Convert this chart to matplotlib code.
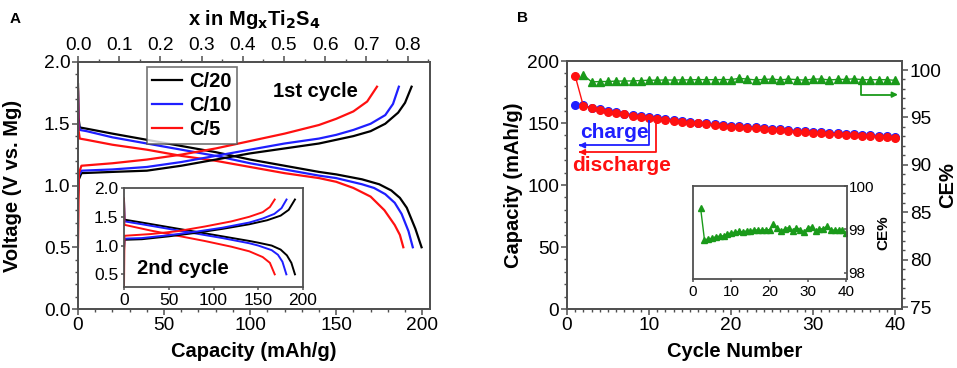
import matplotlib
matplotlib.use("Agg")
import matplotlib.pyplot as plt
from matplotlib.ticker import MultipleLocator

plt.rcParams['font.family'] = ['Liberation Sans', 'DejaVu Sans']

# ---------------- Panel A data (1st cycle) ----------------
c20_dis_cap = [0, 0.3, 1, 5, 20, 40, 60, 80, 100, 120, 140, 150, 165, 175, 182, 187, 191, 196, 199.6]
c20_dis_v = [1.82, 1.55, 1.47, 1.46, 1.42, 1.37, 1.32, 1.27, 1.21, 1.16, 1.11, 1.09, 1.05, 1.01, 0.96, 0.90, 0.82, 0.65, 0.5]
c10_dis_cap = [0, 0.3, 1, 5, 20, 40, 60, 80, 100, 120, 140, 150, 165, 172, 178.5, 184, 188, 192, 194.5]
c10_dis_v = [1.76, 1.52, 1.45, 1.44, 1.39, 1.34, 1.29, 1.24, 1.18, 1.13, 1.08, 1.06, 1.01, 0.98, 0.93, 0.86, 0.77, 0.63, 0.5]
c5_dis_cap = [0, 0.3, 1, 5, 20, 40, 60, 80, 100, 120, 140, 150, 160, 170, 178, 184, 187, 189]
c5_dis_v = [1.78, 1.45, 1.38, 1.37, 1.33, 1.29, 1.24, 1.20, 1.15, 1.10, 1.06, 1.03, 0.98, 0.91, 0.80, 0.68, 0.60, 0.5]

c20_chg_cap = [0, 0.5, 2, 20, 40, 60, 80, 100, 120, 140, 150, 160, 170, 178.5, 186, 190, 193.8]
c20_chg_v = [0.90, 1.05, 1.10, 1.11, 1.12, 1.16, 1.21, 1.26, 1.30, 1.34, 1.37, 1.40, 1.44, 1.50, 1.59, 1.67, 1.80]
c10_chg_cap = [0, 0.5, 2, 20, 40, 60, 80, 100, 120, 140, 150, 160, 170, 178.5, 183, 186.4]
c10_chg_v = [0.95, 1.08, 1.12, 1.13, 1.15, 1.19, 1.24, 1.29, 1.34, 1.38, 1.41, 1.45, 1.50, 1.57, 1.66, 1.80]
c5_chg_cap = [0, 0.5, 2, 20, 40, 60, 80, 100, 120, 140, 150, 160, 168, 173.7]
c5_chg_v = [0.50, 1.10, 1.16, 1.18, 1.21, 1.25, 1.30, 1.36, 1.42, 1.49, 1.54, 1.60, 1.68, 1.80]

# ---------------- Panel A inset data (2nd cycle) ----------------
i20_dis_cap = [0, 0.5, 20, 50, 80, 110, 140, 150, 165, 175, 182, 187, 191]
i20_dis_v = [1.80, 1.45, 1.40, 1.32, 1.24, 1.16, 1.08, 1.05, 1.00, 0.93, 0.83, 0.70, 0.5]
i10_dis_cap = [0, 0.5, 20, 50, 80, 110, 140, 150, 165, 172, 177, 181.4]
i10_dis_v = [1.80, 1.42, 1.37, 1.29, 1.21, 1.13, 1.04, 1.00, 0.92, 0.84, 0.72, 0.5]
i5_dis_cap = [0, 0.5, 30, 60, 90, 120, 140, 155, 163, 168.4]
i5_dis_v = [1.82, 1.36, 1.26, 1.17, 1.08, 0.98, 0.90, 0.80, 0.70, 0.5]
i20_chg_cap = [0, 0.5, 20, 50, 80, 110, 140, 160, 175, 184, 191]
i20_chg_v = [0.90, 1.10, 1.11, 1.16, 1.22, 1.29, 1.37, 1.44, 1.52, 1.62, 1.80]
i10_chg_cap = [0, 0.5, 20, 50, 80, 110, 140, 155, 168, 176, 181.6]
i10_chg_v = [0.95, 1.12, 1.13, 1.18, 1.24, 1.31, 1.40, 1.47, 1.55, 1.65, 1.80]
i5_chg_cap = [0, 0.5, 30, 60, 90, 120, 140, 155, 163, 168.4]
i5_chg_v = [0.28, 1.17, 1.20, 1.25, 1.33, 1.42, 1.50, 1.58, 1.67, 1.80]

# ---------------- Panel B data ----------------
cycles = list(range(1, 41))
charge_cap = [164.2, 164.3, 162.4, 161.1, 159.7, 158.5, 157.6, 156.8, 155.8, 155.0,
              154.2, 153.4, 152.8, 152.0, 151.2, 150.4, 149.8, 149.0, 148.5, 147.7,
              147.4, 146.9, 146.4, 145.8, 145.3, 144.8, 144.5, 143.9, 143.7, 143.1,
              142.8, 142.3, 142.0, 141.5, 141.0, 140.7, 140.2, 139.9, 139.3, 138.5]
discharge_cap = [187.9, 163.6, 161.7, 160.4, 159.0, 157.7, 156.9, 156.0, 155.0, 154.2,
                 153.4, 152.6, 152.0, 151.2, 150.4, 149.6, 149.0, 148.2, 147.7, 146.9,
                 146.6, 146.1, 145.6, 145.0, 144.5, 144.0, 143.7, 143.1, 142.9, 142.3,
                 142.0, 141.5, 141.2, 140.7, 140.2, 139.9, 139.4, 139.1, 138.5, 137.7]
ce_cycles = list(range(2, 41))
ce_values = [99.48, 98.75, 98.78, 98.79, 98.83, 98.84, 98.85, 98.89, 98.92, 98.93,
             98.95, 98.94, 98.96, 98.96, 98.99, 98.98, 98.98, 98.99, 98.99, 99.12,
             99.04, 98.95, 99.01, 99.04, 98.96, 99.04, 98.99, 98.93, 99.04, 99.05,
             98.95, 99.01, 99.01, 99.07, 98.98, 98.98, 98.98, 98.98, 98.91]

BLACK = '#000000'
BLUE = '#1f1fff'
RED = '#ff1010'
GREEN = '#1a9a1a'
SPINE = '#505050'

fig = plt.figure(figsize=(9.57, 3.68), dpi=100)

def style_ax(ax, labelsize=13.8):
    for s in ax.spines.values():
        s.set_color(SPINE)
        s.set_linewidth(1.3)
    ax.tick_params(which='major', direction='out', length=4, width=1.1, color=SPINE,
                   labelsize=labelsize, pad=1.5)
    ax.tick_params(which='minor', direction='out', length=2.2, width=1.0, color=SPINE)

# ---------------- Panel A ----------------
axA = fig.add_axes([78/957, 1-309/368, (430-78)/957, (309-62)/368])
lw = 1.6
axA.plot(c20_dis_cap, c20_dis_v, color=BLACK, lw=lw, label='C/20')
axA.plot(c10_dis_cap, c10_dis_v, color=BLUE, lw=lw, label='C/10')
axA.plot(c5_dis_cap, c5_dis_v, color=RED, lw=lw, label='C/5')
axA.plot(c20_chg_cap, c20_chg_v, color=BLACK, lw=lw)
axA.plot(c10_chg_cap, c10_chg_v, color=BLUE, lw=lw)
axA.plot(c5_chg_cap, c5_chg_v, color=RED, lw=lw)
axA.set_xlim(0, 204.5)
axA.set_ylim(0, 2.0)
axA.xaxis.set_major_locator(MultipleLocator(50))
axA.xaxis.set_minor_locator(MultipleLocator(10))
axA.yaxis.set_major_locator(MultipleLocator(0.5))
axA.yaxis.set_minor_locator(MultipleLocator(0.1))
axA.yaxis.set_major_formatter(plt.FormatStrFormatter('%.1f'))
style_ax(axA)
axA.tick_params(right=False, which='both')
axA.set_xlabel('Capacity (mAh/g)', fontsize=14.5, fontweight='bold')
axA.set_ylabel('Voltage (V vs. Mg)', fontsize=14.5, fontweight='bold')
axA.xaxis.set_label_coords(0.5, -0.135)
axA.yaxis.set_label_coords(-0.16, 0.5)
leg = axA.legend(loc='upper left', bbox_to_anchor=(0.196, 0.98), frameon=True,
                 fancybox=False, edgecolor=SPINE, prop={'weight': 'bold', 'size': 14.5},
                 handlelength=1.5, handletextpad=0.35, borderpad=0.25, labelspacing=0.25,
                 borderaxespad=0.0)
leg.get_frame().set_linewidth(1.2)
axA.text(138, 1.76, '1st cycle', fontsize=14.5, fontweight='bold', ha='center', va='center')

# top axis: x in MgxTi2S4
axT = axA.twiny()
per_x = 239.3  # mAh/g per unit x
axT.set_xlim(0, 204.5 / per_x)
axT.xaxis.set_major_locator(MultipleLocator(0.1))
axT.xaxis.set_minor_locator(MultipleLocator(0.05))
axT.xaxis.set_major_formatter(plt.FormatStrFormatter('%.1f'))
style_ax(axT)
axT.set_xlabel(r'x in Mg$_\mathbf{x}$Ti$_\mathbf{2}$S$_\mathbf{4}$', fontsize=14.5,
               fontweight='bold')
axT.xaxis.set_label_coords(0.5, 1.15)

fig.text(10/957, 1-19/368, 'A', fontsize=11, fontweight='bold', ha='left', va='center')

# inset A
axIA = fig.add_axes([124/957, 1-287/368, (303-124)/957, (287-188)/368])
lwi = 1.4
axIA.plot(i20_dis_cap, i20_dis_v, color=BLACK, lw=lwi)
axIA.plot(i10_dis_cap, i10_dis_v, color=BLUE, lw=lwi)
axIA.plot(i5_dis_cap, i5_dis_v, color=RED, lw=lwi)
axIA.plot(i20_chg_cap, i20_chg_v, color=BLACK, lw=lwi)
axIA.plot(i10_chg_cap, i10_chg_v, color=BLUE, lw=lwi)
axIA.plot(i5_chg_cap, i5_chg_v, color=RED, lw=lwi)
axIA.set_xlim(0, 200)
axIA.set_ylim(0.28, 2.0)
axIA.xaxis.set_major_locator(MultipleLocator(50))
axIA.yaxis.set_major_locator(MultipleLocator(0.5))
axIA.yaxis.set_major_formatter(plt.FormatStrFormatter('%.1f'))
style_ax(axIA, labelsize=12.5)
axIA.tick_params(length=2.5)
axIA.text(66, 0.6, '2nd cycle', fontsize=14.5, fontweight='bold', ha='center', va='center')

# ---------------- Panel B ----------------
axB = fig.add_axes([567/957, 1-309/368, (902-567)/957, (309-61)/368])
axB.plot(cycles, charge_cap, color=BLUE, lw=1.0, marker='o', ms=5.5, mec=BLUE, mfc=BLUE)
axB.plot(cycles, discharge_cap, color=RED, lw=1.0, marker='o', ms=5.5, mec=RED, mfc=RED)
axB.set_xlim(0, 40.85)
axB.set_ylim(0, 200)
axB.xaxis.set_major_locator(MultipleLocator(10))
axB.xaxis.set_minor_locator(MultipleLocator(1))
axB.yaxis.set_major_locator(MultipleLocator(50))
axB.yaxis.set_minor_locator(MultipleLocator(10))
style_ax(axB)
axB.set_xlabel('Cycle Number', fontsize=14.5, fontweight='bold')
axB.set_ylabel('Capacity (mAh/g)', fontsize=14.5, fontweight='bold')
axB.xaxis.set_label_coords(0.5, -0.135)
axB.yaxis.set_label_coords(-0.131, 0.5)

# arrows for charge / discharge
axB.plot([10.05, 10.05, 1.6], [152, 132, 132], color=BLUE, lw=1.3)
axB.annotate('', xy=(1.1, 132), xytext=(2.0, 132),
             arrowprops=dict(arrowstyle='-|>', color=BLUE, lw=1.3, mutation_scale=8))
axB.plot([10.9, 10.9, 1.6], [152, 126.5, 126.5], color=RED, lw=1.3)
axB.annotate('', xy=(1.1, 126.5), xytext=(2.0, 126.5),
             arrowprops=dict(arrowstyle='-|>', color=RED, lw=1.3, mutation_scale=8))
axB.text(5.8, 142, 'charge', color=BLUE, fontsize=15, fontweight='bold', ha='center', va='center')
axB.text(6.6, 116, 'discharge', color=RED, fontsize=15, fontweight='bold', ha='center', va='center')

axB2 = axB.twinx()
axB2.plot(ce_cycles, ce_values, color=GREEN, lw=1.0, marker='^', ms=5.5, mec=GREEN, mfc=GREEN)
axB2.set_ylim(74.8, 100.95)
axB2.yaxis.set_major_locator(MultipleLocator(5))
axB2.yaxis.set_minor_locator(MultipleLocator(1))
style_ax(axB2)
axB2.tick_params(axis='x', which='both', top=False)
axB2.set_ylabel('CE%', fontsize=14.5, fontweight='bold')
axB2.yaxis.set_label_coords(1.107, 0.5)
axB2.plot([35.8, 35.8, 39.8], [98.8, 97.4, 97.4], color=GREEN, lw=1.3)
axB2.annotate('', xy=(40.7, 97.4), xytext=(39.5, 97.4),
              arrowprops=dict(arrowstyle='-|>', color=GREEN, lw=1.3, mutation_scale=8))

fig.text(517/957, 1-18/368, 'B', fontsize=11, fontweight='bold', ha='left', va='center')

# inset B
axIB = fig.add_axes([693/957, 1-279/368, (847-693)/957, (279-186)/368])
axIB.plot(ce_cycles, ce_values, color=GREEN, lw=1.0, marker='^', ms=4, mec=GREEN, mfc=GREEN)
axIB.set_xlim(0, 40.2)
axIB.set_ylim(97.85, 100.0)
axIB.xaxis.set_major_locator(MultipleLocator(10))
axIB.yaxis.set_major_locator(MultipleLocator(1))
style_ax(axIB, labelsize=11)
axIB.tick_params(length=2.5)
axIB.yaxis.tick_right()
axIB.yaxis.set_label_position('right')
axIB.tick_params(axis='y', which='both', left=False, right=True, direction='in', pad=1)
axIB.set_ylabel('CE%', fontsize=11, fontweight='bold', labelpad=2)

fig.savefig('out.png', dpi=100)
